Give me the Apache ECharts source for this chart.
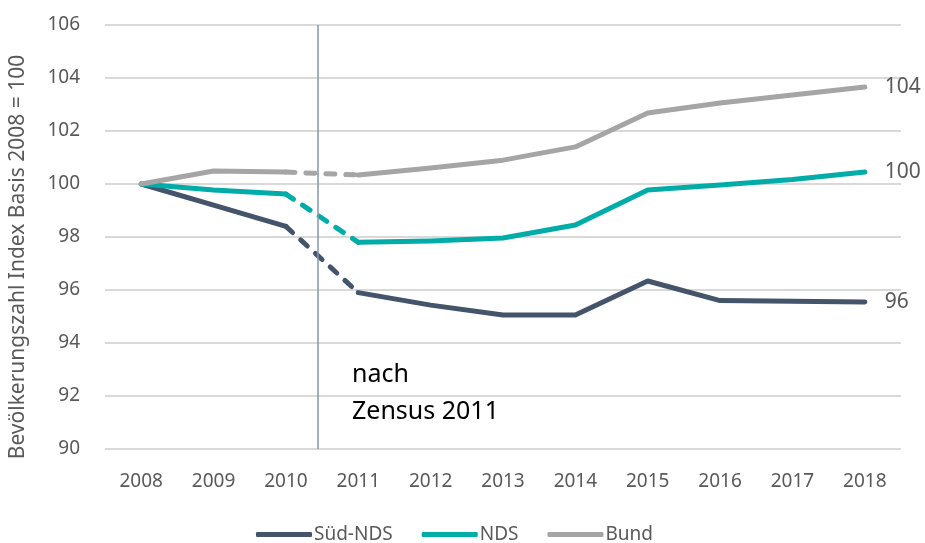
<!DOCTYPE html>
<html>
<head>
<meta charset="utf-8">
<script src="https://cdn.jsdelivr.net/npm/echarts@6/dist/echarts.min.js"></script>
<style>
  html, body { margin: 0; padding: 0; background: #fff; }
  #chart { width: 925px; height: 543px; }
</style>
</head>
<body>
<div id="chart"></div>
<script>
// Jahre
var years = ['2008', '2009', '2010', '2011', '2012', '2013', '2014', '2015', '2016', '2017', '2018'];
// Index 2008 = 100
var suedNds = [100, 99.2, 98.4, 95.9, 95.43, 95.06, 95.06, 96.34, 95.6, 95.58, 95.55];
var nds     = [100, 99.77, 99.62, 97.8, 97.85, 97.96, 98.45, 99.77, 99.96, 100.17, 100.45];
var bund    = [100, 100.49, 100.45, 100.34, 100.6, 100.9, 101.4, 102.68, 103.06, 103.36, 103.66];
// Beschriftung am Linienende
var endLabels = ['96', '100', '104'];
// Zensus-Linie (Position zwischen 2010 und 2011, in Kategorie-Einheiten)
var censusPos = 2.44;

var colors = ['#44546A', '#00ACA8', '#A5A5A5'];
var names = ['Süd-NDS', 'NDS', 'Bund'];
var allData = [suedNds, nds, bund];

// Daten in drei Teile zerlegen: vor Zensus, Übergang (gestrichelt), nach Zensus
function part(arr, from, to) {
  return arr.map(function (v, i) { return (i >= from && i <= to) ? v : '-'; });
}

var series = [];
allData.forEach(function (arr, k) {
  var base = {
    name: names[k],
    type: 'line',
    symbol: 'none',
    color: colors[k],
    z: 3 + k,
    lineStyle: { width: 5, cap: 'round', join: 'round' }
  };
  series.push(Object.assign({}, base, { data: part(arr, 0, 2) }));
  series.push(Object.assign({}, base, {
    data: part(arr, 2, 3),
    lineStyle: { width: 5, cap: 'round', type: [9, 11] }
  }));
  series.push(Object.assign({}, base, {
    data: part(arr, 3, arr.length - 1),
    endLabel: {
      show: true,
      formatter: endLabels[k],
      color: '#595959',
      fontSize: 21,
      fontFamily: 'Noto Sans',
      distance: 20
    }
  }));
});

// vertikale Linie
series.push({
  type: 'line',
  xAxisIndex: 1,
  data: [],
  silent: true,
  markLine: {
    symbol: 'none',
    silent: true,
    label: { show: false },
    lineStyle: { color: '#8497B0', width: 1.5, type: 'solid' },
    data: [{ xAxis: censusPos }]
  }
});

var chart = echarts.init(document.getElementById('chart'));
chart.setOption({
  animation: false,
  textStyle: { fontFamily: 'Noto Sans' },
  grid: { left: 101, right: 24, top: 25, bottom: 94 },
  legend: {
    data: names,
    left: 251,
    top: 520,
    icon: 'roundRect',
    itemWidth: 56,
    itemHeight: 5,
    itemGap: 29,
    textStyle: { color: '#595959', fontSize: 19, padding: [0, 0, 0, -3] }
  },
  xAxis: [{
    type: 'category',
    data: years,
    axisLine: { show: false },
    axisTick: { show: false },
    axisLabel: { color: '#595959', fontSize: 19, margin: 23 }
  }, {
    type: 'value',
    min: -0.5,
    max: 10.5,
    show: false
  }],
  yAxis: {
    type: 'value',
    min: 90,
    max: 106,
    interval: 2,
    name: 'Bevölkerungszahl Index Basis 2008 = 100',
    nameLocation: 'middle',
    nameGap: 76,
    nameTextStyle: { color: '#595959', fontSize: 21, padding: [0, 40, 0, 0] },
    axisLine: { show: false },
    axisTick: { show: false },
    axisLabel: { color: '#595959', fontSize: 19, margin: 25 },
    splitLine: { lineStyle: { color: '#D9D9D9', width: 2 } }
  },
  graphic: [{
    type: 'text',
    left: 352,
    top: 356,
    style: {
      text: 'nach\nZensus 2011',
      fill: '#000',
      font: '25px "Noto Sans"',
      lineHeight: 37
    }
  }],
  series: series
});
</script>
</body>
</html>
